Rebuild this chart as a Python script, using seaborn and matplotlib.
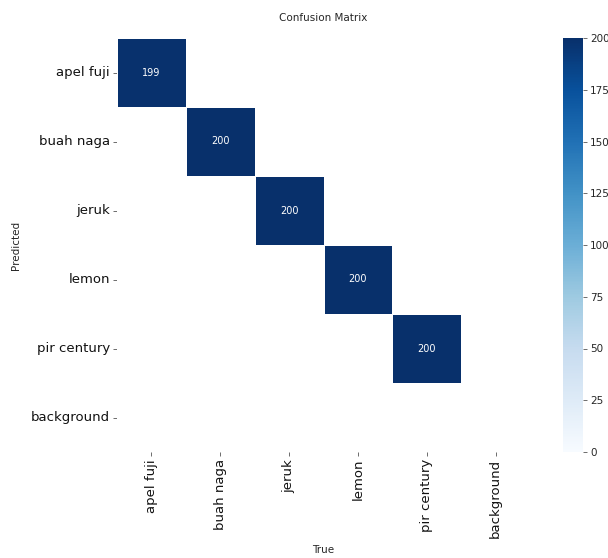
import numpy as np
import pandas as pd
import matplotlib
matplotlib.use("Agg")
import matplotlib.pyplot as plt
import seaborn as sns

# Class names (predicted rows / true columns)
classes = ["apel fuji", "buah naga", "jeruk", "lemon", "pir century", "background"]
# Diagonal counts for the five fruit classes; background has no correct matches
diag_counts = [199, 200, 200, 200, 200]

n = len(classes)
matrix = np.full((n, n), np.nan)
for i, v in enumerate(diag_counts):
    matrix[i, i] = v
df = pd.DataFrame(matrix, index=classes, columns=classes)

sns.set_theme(style="white")
plt.rcParams["font.family"] = ["DejaVu Sans"]

W, H = 608, 558
fig = plt.figure(figsize=(W / 100, H / 100), dpi=100)
ax = fig.add_axes([117 / W, 1 - 452 / H, 413 / W, 414 / H])
cax = fig.add_axes([563 / W, 1 - 452 / H, 20 / W, 414 / H])

sns.heatmap(df, ax=ax, cbar_ax=cax, cmap="Blues", vmin=0, vmax=200,
            annot=True, fmt=".0f", annot_kws={"size": 7},
            linewidths=0.4, linecolor="white", cbar=True)

ax.set_title("Confusion Matrix", fontsize=7.5, pad=12)
ax.set_xlabel("True", fontsize=7.5, labelpad=5)
ax.set_ylabel("Predicted", fontsize=7.5, labelpad=7)
ax.tick_params(axis="both", which="both", length=3, width=0.6, color="#555555",
               labelsize=9.5, labelcolor="#111111", pad=2, bottom=True, left=True)
ax.set_xticklabels(classes, rotation=90)
ax.set_yticklabels(classes, rotation=0)

cax.set_yticks([0, 25, 50, 75, 100, 125, 150, 175, 200])
cax.tick_params(length=3, width=0.6, color="#555555", labelsize=7.5, pad=2, right=True)

fig.savefig("out.png", dpi=100, facecolor="white")
